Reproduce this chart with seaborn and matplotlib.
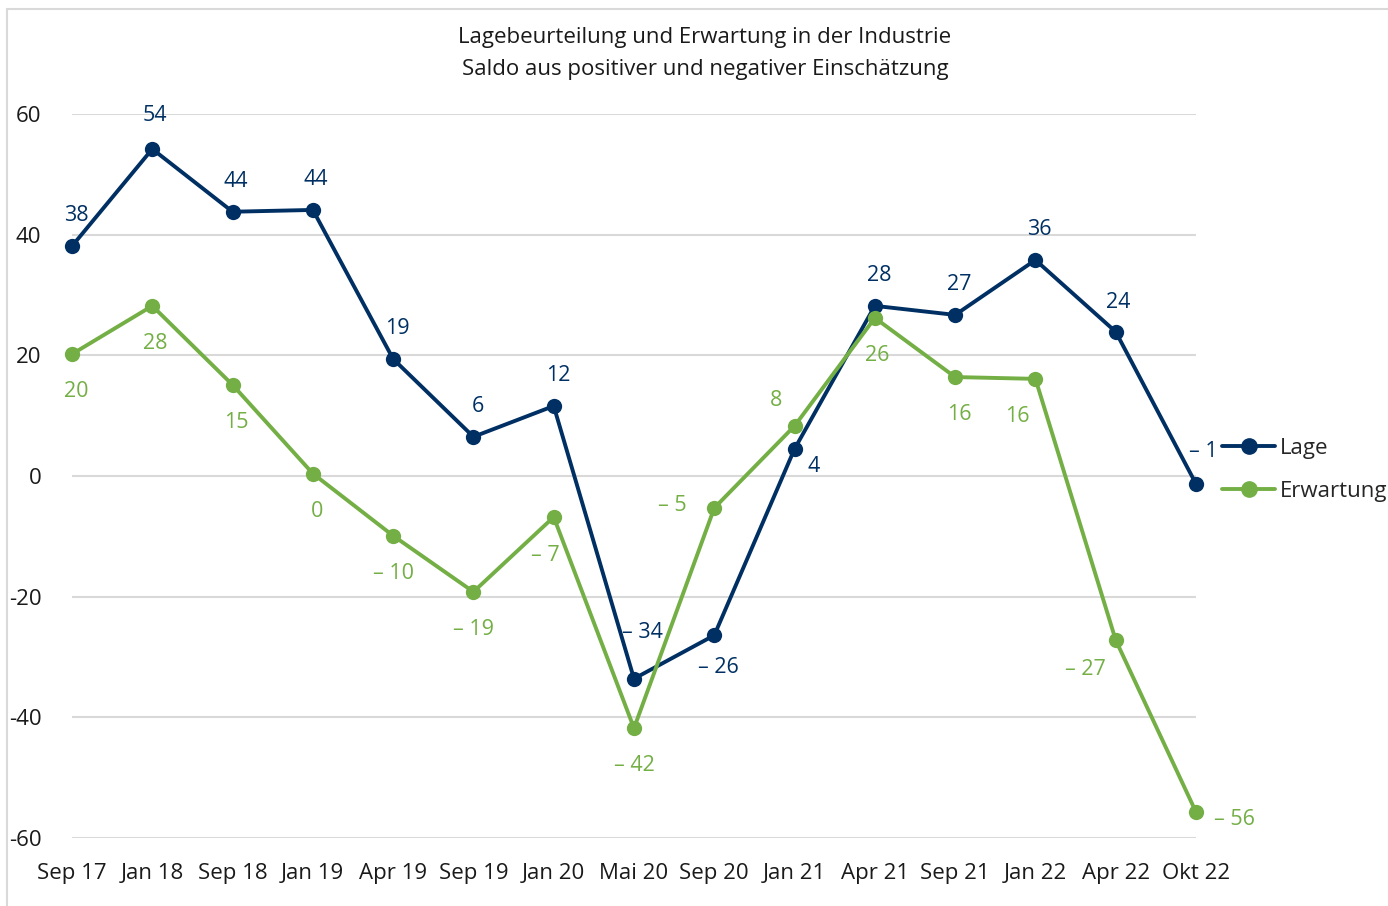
import numpy as np
import pandas as pd
import matplotlib
matplotlib.use('Agg')
import matplotlib.pyplot as plt
import seaborn as sns
from matplotlib.patches import Rectangle

# survey dates and balance values
dates = ['Sep 17', 'Jan 18', 'Sep 18', 'Jan 19', 'Apr 19', 'Sep 19', 'Jan 20', 'Mai 20',
         'Sep 20', 'Jan 21', 'Apr 21', 'Sep 21', 'Jan 22', 'Apr 22', 'Okt 22']
lage = [38.1, 54.2, 43.8, 44.1, 19.4, 6.5, 11.6, -33.6, -26.4, 4.5, 28.2, 26.7, 35.8, 23.9, -1.3]
erwartung = [20.2, 28.2, 15.1, 0.4, -9.9, -19.2, -6.8, -41.8, -5.3, 8.3, 26.2, 16.4, 16.1, -27.2, -55.7]

# label offsets in points (dx, dy) for each data label
lage_off = [(3, 22), (2, 24), (2, 22), (2, 22), (3, 22), (3, 22), (3, 22), (6, 33),
            (3, -23), (14, -13), (3, 22), (3, 22), (3, 22), (2, 21), (5, 23)]
erw_off = [(3, -27), (2, -27), (3, -27), (3, -27), (0, -27), (0, -27), (-6, -28), (0, -27),
           (-30, 2), (-13, 18), (2, -27), (3, -27), (-13, -27), (-22, -21), (28, -5)]

navy = '#003063'
green = '#74AF45'

sns.set_theme(style='white')
plt.rcParams['font.family'] = ['Open Sans', 'DejaVu Sans']

df = pd.DataFrame({'x': np.arange(len(dates)), 'Lage': lage, 'Erwartung': erwartung})
long = df.melt(id_vars='x', var_name='Reihe', value_name='Saldo')

fig = plt.figure(figsize=(13.88, 9.06), dpi=100)
ax = fig.add_axes([72 / 1388, 1 - 838 / 906, (1196 - 72) / 1388, (838 - 114) / 906])

sns.lineplot(data=long, x='x', y='Saldo', hue='Reihe', palette={'Lage': navy, 'Erwartung': green},
             marker='o', markersize=11, markeredgewidth=0, linewidth=2.8, ax=ax, legend=False,
             clip_on=False, zorder=3)

ax.set_xlim(0, len(dates) - 1)
ax.set_ylim(-60, 60)
ax.set_yticks(range(-60, 61, 20))
ax.set_yticklabels([str(v) for v in range(-60, 61, 20)], fontsize=16, color='#1a1a1a')
ax.set_xticks(range(len(dates)))
ax.set_xticklabels(dates, fontsize=16, color='#1a1a1a')
ax.tick_params(axis='y', pad=22, length=0)
ax.tick_params(axis='x', pad=18, length=0)
ax.set_xlabel('')
ax.set_ylabel('')
ax.grid(axis='y', color='#d9d9d9', linewidth=1.5)
for s in ax.spines.values():
    s.set_visible(False)


def fmt(v):
    r = int(round(v))
    return f'\u2013 {abs(r)}' if r < 0 else str(r)


for i, (v, off) in enumerate(zip(lage, lage_off)):
    ax.annotate(fmt(v), (i, v), xytext=off, textcoords='offset points', ha='center', va='center',
                fontsize=15.5, color=navy)
for i, (v, off) in enumerate(zip(erwartung, erw_off)):
    ax.annotate(fmt(v), (i, v), xytext=off, textcoords='offset points', ha='center', va='center',
                fontsize=15.5, color=green)

# legend on the right
h1, = ax.plot([], [], color=navy, marker='o', markersize=11, linewidth=2.8)
h2, = ax.plot([], [], color=green, marker='o', markersize=11, linewidth=2.8)
fig.legend([h1, h2], ['Lage', 'Erwartung'], loc='center left', bbox_to_anchor=(1213 / 1388, 1 - 470 / 906),
           frameon=False, fontsize=16, handlelength=2.4, handletextpad=0.2, labelspacing=1.0,
           borderpad=0.4, borderaxespad=0)

fig.text(705 / 1388, 1 - 38 / 906, 'Lagebeurteilung und Erwartung in der Industrie', ha='center',
         va='center', fontsize=16, color='#1a1a1a')
fig.text(705 / 1388, 1 - 70 / 906, 'Saldo aus positiver und negativer Einschätzung', ha='center',
         va='center', fontsize=16, color='#1a1a1a')

fig.patches.append(Rectangle((7 / 1388, -0.01), 1.0, 1 - 9 / 906 + 0.01, transform=fig.transFigure,
                             fill=False, edgecolor='#d9d9d9', linewidth=1.5))

fig.savefig('out.png', dpi=100)
